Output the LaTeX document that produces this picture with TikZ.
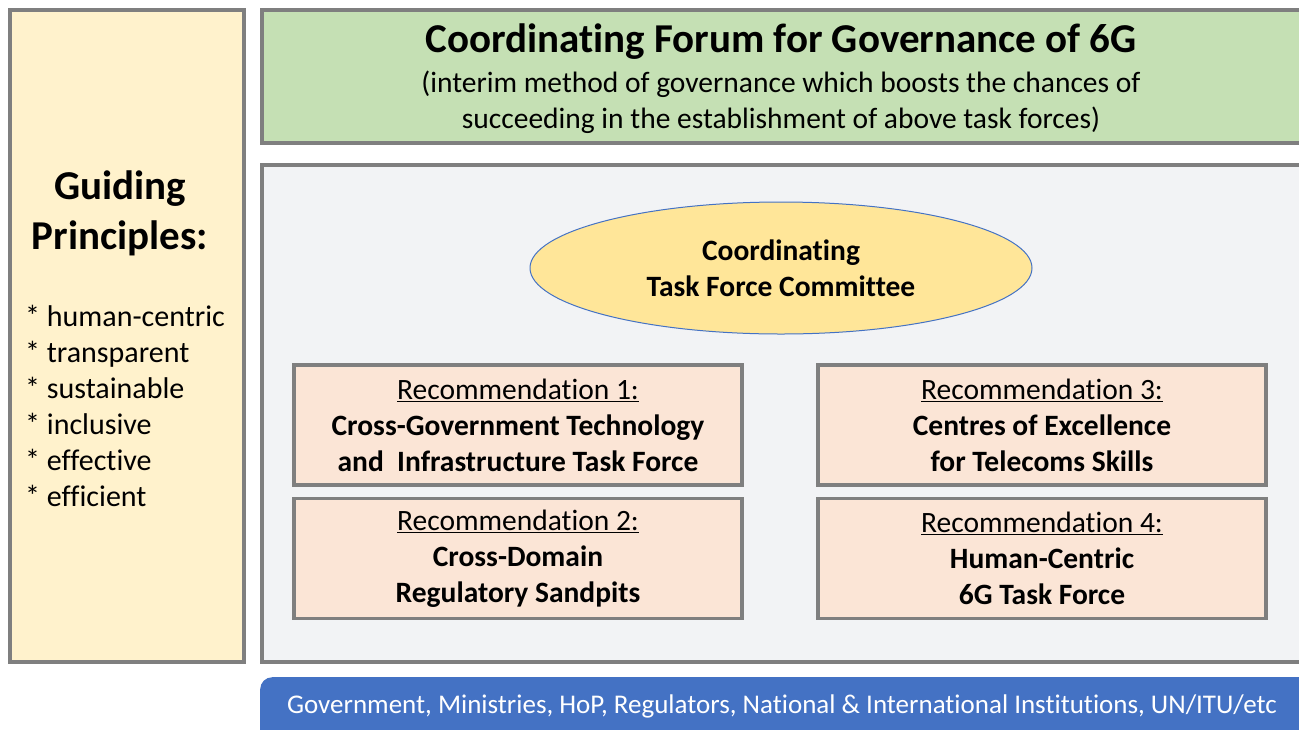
\documentclass[tikz,border=0pt]{standalone}
\usepackage{fontspec}
\setmainfont{Carlito}[Ligatures=NoCommon]
\usetikzlibrary{shapes.geometric}
\definecolor{gpyellow}{HTML}{FFF2CC}
\definecolor{frame}{HTML}{7F7F7F}
\definecolor{forumgreen}{HTML}{C5E0B4}
\definecolor{panelgray}{HTML}{F2F3F5}
\definecolor{recfill}{HTML}{FBE5D6}
\definecolor{ellfill}{HTML}{FFE699}
\definecolor{accblue}{HTML}{4472C4}
\tikzset{
  panel/.style={draw=frame, line width=3.5pt, anchor=north west, inner sep=0pt},
  recbox/.style={draw=frame, line width=3.5pt, fill=recfill, minimum width=448pt, minimum height=120pt,
    align=center, inner sep=0pt, font=\fontsize{29.5}{36}\selectfont},
  bigtext/.style={font=\bfseries\fontsize{41}{50}\selectfont, align=center, inner sep=0pt},
  midtext/.style={font=\fontsize{29.5}{36}\selectfont, align=center, inner sep=0pt},
}
\begin{document}
\begin{tikzpicture}[x=1pt,y=-1pt]
\clip (0,0) rectangle (1299,729);
\fill[white] (0,0) rectangle (1299,729);
% guiding principles
\node[panel, fill=gpyellow, minimum width=234pt, minimum height=652pt] (gp) at (8,8) {};
\node[bigtext] (gptitle) at (120,213) {Guiding\\Principles:};
\node[midtext, font=\fontsize{30}{36}\selectfont, align=left, anchor=north west] (gplist) at (25,305)
  {* human-centric\\* transparent\\* sustainable\\* inclusive\\* effective\\* efficient};
% forum
\node[panel, fill=forumgreen, minimum width=1043pt, minimum height=133pt] (forum) at (260,8) {};
\node[bigtext] (forumtitle) at (781,42) {Coordinating Forum for Governance of 6G};
\node[midtext] (forumsub) at (781,102) {(interim method of governance which boosts the chances of\\succeeding in the establishment of above task forces)};
% main panel
\node[panel, fill=panelgray, minimum width=1043pt, minimum height=497pt] (main) at (260,163) {};
\node[ellipse, draw=accblue, line width=1pt, fill=ellfill, minimum width=502pt, minimum height=132pt,
  inner sep=0pt, font=\bfseries\fontsize{29.5}{36}\selectfont, align=center] (ctfc) at (781,268)
  {Coordinating\\Task Force Committee};
\node[recbox] (r1) at (518,425) {\underline{Recommendation 1:}\\\textbf{Cross-Government Technology}\\\textbf{and\ \ Infrastructure Task Force}};
\node[recbox] (r2) at (518,558.5) {\underline{Recommendation 2:}\\\textbf{Cross-Domain}\\\textbf{Regulatory Sandpits}};
\node[recbox] (r3) at (1042,425) {\underline{Recommendation 3:}\\\textbf{Centres of Excellence}\\\textbf{for Telecoms Skills}};
\node[recbox] (r4) at (1042,558.5) {\underline{Recommendation 4:}\\\textbf{Human-Centric}\\\textbf{6G Task Force}};
% bottom bar
\node[fill=accblue, rounded corners=12pt, anchor=north west, minimum width=1060pt, minimum height=80pt] (bar) at (260,677) {};
\node[font=\fontsize{27}{32}\selectfont, text=white, inner sep=0pt] (bartext) at (782,706)
  {Government, Ministries, HoP, Regulators, National \& International Institutions, UN/ITU/etc};
\end{tikzpicture}
\end{document}
